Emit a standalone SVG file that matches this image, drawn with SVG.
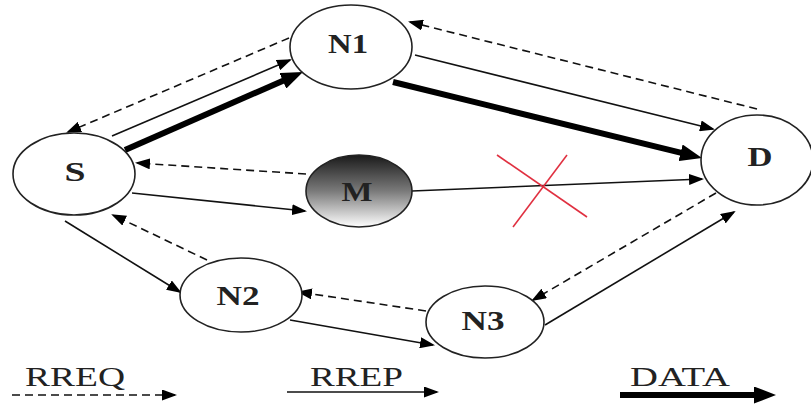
<svg xmlns="http://www.w3.org/2000/svg" width="811" height="408" viewBox="0 0 811 408">
<defs>
<style>
.node ellipse{fill:#fff;stroke:#222;stroke-width:1.6}
.lbl{font-family:"Liberation Serif","Times New Roman",serif;font-weight:bold;font-size:27px;fill:#222;text-anchor:middle;dominant-baseline:central}
.leg{font-family:"Liberation Serif","Times New Roman",serif;font-size:27px;fill:#222}
.thin{fill:none;stroke:#111;stroke-width:1.6;marker-end:url(#ah)}
.dash{fill:none;stroke:#111;stroke-width:1.6;stroke-dasharray:8 5;marker-end:url(#ah)}
.thick{fill:none;stroke:#000;stroke-width:6;marker-end:url(#ahb)}
.cross{stroke:#e03040;stroke-width:1.6}
</style>
<marker id="ah" markerUnits="userSpaceOnUse" markerWidth="15" markerHeight="11" refX="13" refY="5.5" orient="auto">
<path d="M0,0 L15,5.5 L0,11 z" fill="#000"/>
</marker>
<marker id="ahb" markerUnits="userSpaceOnUse" markerWidth="22" markerHeight="17" refX="4" refY="8.5" orient="auto">
<path d="M0,0 L22,8.5 L0,17 z" fill="#000"/>
</marker>
<linearGradient id="gm" x1="0" y1="0" x2="0" y2="1">
<stop offset="0" stop-color="#1a1a1a"/>
<stop offset="0.5" stop-color="#7a7a7a"/>
<stop offset="1" stop-color="#ffffff"/>
</linearGradient>
</defs>
<rect width="811" height="408" fill="#fff"/>
<g id="connectors">
<path class="dash" d="M757,109 L410,22"/>
<path class="thin" d="M415,55 L713,129"/>
<path class="thick" d="M393,82 L684.5,153.7"/>
<path class="thin" d="M412,191 L702,179"/>
<path class="dash" d="M289,38 L68,132"/>
<path class="thin" d="M112,136 L290,60"/>
<path class="thick" d="M125,150 L286.5,79.2"/>
<path class="dash" d="M306,174 L137,163"/>
<path class="thin" d="M132,193 L305,211"/>
<path class="thin" d="M65,221 L180,292"/>
<path class="dash" d="M207,260 L113,215"/>
<path class="dash" d="M426,311 L299,292"/>
<path class="thin" d="M290,320 L433,345"/>
<path class="dash" d="M716,193 L533,300"/>
<path class="thin" d="M545,325 L734,212"/>
</g>
<g id="cross">
<line class="cross" x1="497" y1="155" x2="587" y2="217"/>
<line class="cross" x1="567" y1="155" x2="513" y2="227"/>
</g>
<g id="node-N1" class="node"><ellipse cx="351" cy="47" rx="61" ry="42"/><text class="lbl" x="348" y="44" textLength="40" lengthAdjust="spacingAndGlyphs">N1</text></g>
<g id="node-S" class="node"><ellipse cx="74" cy="174" rx="61" ry="41"/><text class="lbl" x="75" y="172" textLength="21" lengthAdjust="spacingAndGlyphs">S</text></g>
<g id="node-M" class="node"><ellipse cx="359" cy="191" rx="53" ry="36" style="fill:url(#gm)"/><text class="lbl" x="357" y="192" textLength="31" lengthAdjust="spacingAndGlyphs">M</text></g>
<g id="node-D" class="node"><ellipse cx="757" cy="160" rx="56" ry="45"/><text class="lbl" x="760" y="157" textLength="25" lengthAdjust="spacingAndGlyphs">D</text></g>
<g id="node-N2" class="node"><ellipse cx="241" cy="295" rx="61" ry="37"/><text class="lbl" x="238" y="296" textLength="43" lengthAdjust="spacingAndGlyphs">N2</text></g>
<g id="node-N3" class="node"><ellipse cx="485" cy="322" rx="59" ry="36"/><text class="lbl" x="483" y="321" textLength="43" lengthAdjust="spacingAndGlyphs">N3</text></g>
<g id="legend">
<text class="leg" x="25" y="386" textLength="100" lengthAdjust="spacingAndGlyphs">RREQ</text>
<path class="dash" d="M12,395 L175,395"/>
<text class="leg" x="310" y="386" textLength="93" lengthAdjust="spacingAndGlyphs">RREP</text>
<path class="thin" d="M287,392 L437,392"/>
<text class="leg" x="630" y="386" textLength="100" lengthAdjust="spacingAndGlyphs">DATA</text>
<path class="thick" d="M620,395 L758,395"/>
</g>
</svg>
